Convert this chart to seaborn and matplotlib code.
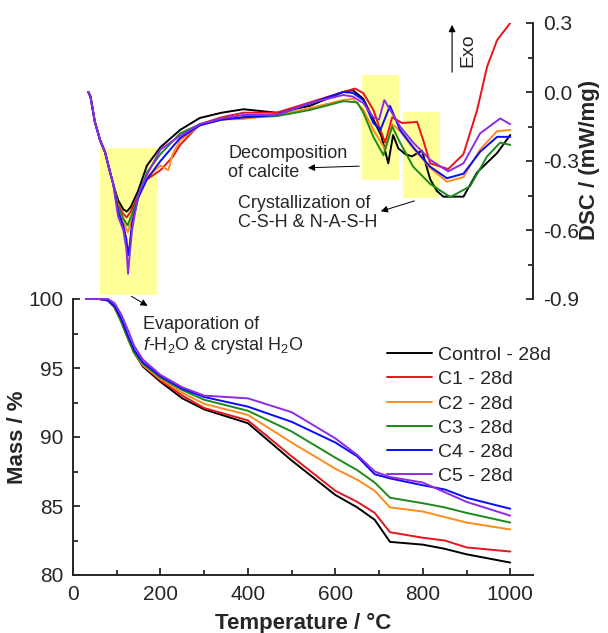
import numpy as np
import matplotlib.pyplot as plt
import matplotlib.ticker as ticker
from matplotlib.patches import Rectangle
import seaborn as sns

# Styling
sns.set_style('ticks')
plt.rcParams['font.family'] = ['Liberation Sans', 'DejaVu Sans']
plt.rcParams['mathtext.fontset'] = 'custom'
plt.rcParams['mathtext.rm'] = 'Liberation Sans'
plt.rcParams['mathtext.it'] = 'Liberation Sans:italic'

labels = ['Control - 28d', 'C1 - 28d', 'C2 - 28d', 'C3 - 28d', 'C4 - 28d', 'C5 - 28d']
colors = ['black', '#e8141b', '#ff8c1a', '#1b8a1b', '#0a0aff', '#8f2be8']

# TG data (mass %)
mass_temp = [30, 60, 80, 95, 110, 125, 140, 160, 200, 250, 300, 400, 500, 600, 650, 690, 725, 800, 850, 900, 1000]
mass_control = [100, 100, 99.9, 99.4, 98.4, 97.2, 96.1, 95.1, 94.0, 92.8, 92.0, 91.0, 88.3, 85.8, 84.9, 84.0, 82.4, 82.2, 81.9, 81.5, 80.9]
mass_c1      = [100, 100, 99.9, 99.4, 98.4, 97.2, 96.1, 95.2, 94.1, 93.0, 92.1, 91.2, 88.6, 86.1, 85.3, 84.5, 83.1, 82.7, 82.5, 82.0, 81.7]
mass_c2      = [100, 100, 99.9, 99.4, 98.4, 97.2, 96.1, 95.2, 94.2, 93.2, 92.4, 91.6, 89.6, 87.7, 86.9, 86.1, 84.9, 84.6, 84.2, 83.8, 83.3]
mass_c3      = [100, 100, 99.9, 99.4, 98.4, 97.2, 96.1, 95.3, 94.3, 93.4, 92.7, 91.9, 90.4, 88.5, 87.6, 86.7, 85.6, 85.2, 84.9, 84.5, 83.8]
mass_c4      = [100, 100, 99.9, 99.5, 98.6, 97.4, 96.3, 95.4, 94.4, 93.5, 92.9, 92.2, 91.1, 89.6, 88.6, 87.3, 87.0, 86.5, 86.2, 85.6, 84.8]
mass_c5      = [100, 100, 100, 99.7, 98.9, 97.8, 96.6, 95.6, 94.5, 93.6, 93.0, 92.8, 91.8, 89.9, 88.7, 87.5, 87.1, 86.7, 86.0, 85.3, 84.3]

# DSC data (mW/mg)
dsc_start_t = [35, 40, 50, 62, 73, 85, 92]
dsc_start = [0.0, -0.02, -0.13, -0.21, -0.26, -0.35, -0.40]

dsc_t_control = [103, 115, 123, 132, 149, 169, 200, 245, 290, 340, 390, 466, 542, 618, 640, 664, 687, 705, 721, 732, 744, 760, 775, 798, 817, 832, 847, 893, 924, 970, 1000]
dsc_control   = [-0.47, -0.51, -0.52, -0.50, -0.43, -0.32, -0.24, -0.165, -0.113, -0.09, -0.075, -0.09, -0.06, 0.0, 0.008, -0.03, -0.12, -0.19, -0.31, -0.187, -0.245, -0.27, -0.28, -0.255, -0.38, -0.43, -0.455, -0.455, -0.35, -0.265, -0.187]

dsc_t_c1 = [103, 115, 123, 132, 149, 169, 200, 229, 245, 290, 340, 390, 466, 542, 618, 645, 664, 687, 700, 714, 730, 753, 787, 801, 817, 858, 893, 924, 947, 970, 1000]
dsc_c1   = [-0.49, -0.53, -0.545, -0.52, -0.45, -0.38, -0.34, -0.28, -0.23, -0.14, -0.11, -0.09, -0.09, -0.045, 0.0, 0.015, -0.005, -0.078, -0.15, -0.22, -0.11, -0.135, -0.13, -0.21, -0.31, -0.335, -0.27, -0.08, 0.11, 0.226, 0.3]

dsc_t_c2 = [103, 115, 125, 135, 149, 169, 200, 218, 228, 245, 290, 340, 390, 466, 542, 618, 640, 664, 687, 714, 730, 748, 778, 817, 855, 893, 931, 970, 1000]
dsc_c2   = [-0.50, -0.56, -0.61, -0.55, -0.46, -0.37, -0.32, -0.34, -0.27, -0.21, -0.145, -0.12, -0.117, -0.10, -0.07, -0.035, -0.03, -0.078, -0.165, -0.25, -0.14, -0.17, -0.245, -0.33, -0.39, -0.37, -0.25, -0.17, -0.165]

dsc_t_c3 = [103, 115, 125, 135, 149, 169, 200, 245, 290, 340, 390, 466, 542, 618, 650, 664, 687, 710, 730, 748, 778, 817, 863, 908, 947, 977, 1000]
dsc_c3   = [-0.50, -0.55, -0.58, -0.53, -0.45, -0.35, -0.27, -0.18, -0.14, -0.12, -0.11, -0.105, -0.078, -0.04, -0.045, -0.09, -0.195, -0.275, -0.15, -0.22, -0.325, -0.40, -0.457, -0.41, -0.28, -0.22, -0.23]

dsc_t_c4 = [103, 115, 122, 126, 130, 135, 149, 169, 200, 245, 290, 340, 390, 466, 542, 618, 640, 664, 687, 703, 725, 748, 778, 817, 855, 893, 931, 970, 1000]
dsc_c4   = [-0.52, -0.58, -0.64, -0.71, -0.66, -0.57, -0.46, -0.38, -0.30, -0.20, -0.145, -0.12, -0.11, -0.10, -0.05, 0.0, -0.004, -0.035, -0.135, -0.165, -0.06, -0.165, -0.24, -0.325, -0.375, -0.355, -0.26, -0.195, -0.195]

dsc_t_c5 = [103, 115, 122, 126, 130, 135, 149, 169, 200, 245, 290, 340, 390, 466, 542, 618, 640, 664, 687, 700, 712, 748, 778, 817, 858, 893, 931, 977, 1000]
dsc_c5   = [-0.54, -0.60, -0.68, -0.79, -0.70, -0.60, -0.45, -0.36, -0.25, -0.19, -0.14, -0.115, -0.10, -0.10, -0.048, -0.013, -0.02, -0.048, -0.11, -0.12, -0.035, -0.15, -0.22, -0.295, -0.345, -0.31, -0.18, -0.115, -0.14]

mass_series = [mass_control, mass_c1, mass_c2, mass_c3, mass_c4, mass_c5]
dsc_temps = [dsc_t_control, dsc_t_c1, dsc_t_c2, dsc_t_c3, dsc_t_c4, dsc_t_c5]
dsc_series = [dsc_control, dsc_c1, dsc_c2, dsc_c3, dsc_c4, dsc_c5]

# highlighted regions: (T start, T end, DSC low, DSC high)
boxes = [(62, 192, -0.883, -0.243), (661, 746, -0.383, 0.074), (755, 840, -0.461, -0.087)]

# Figure
fig = plt.figure(figsize=(6.08, 6.33), dpi=100)
ax = fig.add_axes([73/608, 1 - 575/633, 460/608, 552/633])
ax2 = ax.twinx()

for m, c, lab in zip(mass_series, colors, labels):
    sns.lineplot(x=mass_temp, y=m, ax=ax, color=c, lw=1.4, label=lab, sort=False, estimator=None)

for (x0, x1, y0, y1) in boxes:
    ax2.add_patch(Rectangle((x0, y0), x1 - x0, y1 - y0, facecolor='#ffff99', edgecolor='none', zorder=0))

for t, d, c in zip(dsc_temps, dsc_series, colors):
    sns.lineplot(x=dsc_start_t + t, y=dsc_start + d, ax=ax2, color=c, lw=1.4, sort=False,
                 estimator=None, legend=False)

# axes limits / spines
ax.set_xlim(0, 1052)
ax.set_ylim(80, 120)
ax2.set_ylim(-2.1, 0.3)

for s in ['top', 'right']:
    ax.spines[s].set_visible(False)
for s in ['top', 'left', 'bottom']:
    ax2.spines[s].set_visible(False)
ax.spines['left'].set_bounds(80, 100)
ax2.spines['right'].set_bounds(-0.9, 0.3)
for a in [ax, ax2]:
    for s in a.spines.values():
        s.set_linewidth(1.4)

ax.set_xticks([0, 200, 400, 600, 800, 1000])
ax.xaxis.set_minor_locator(ticker.FixedLocator([100, 300, 500, 700, 900]))
ax.set_yticks([80, 85, 90, 95, 100])
ax.yaxis.set_minor_locator(ticker.FixedLocator([82.5, 87.5, 92.5, 97.5]))
ax2.set_yticks([-0.9, -0.6, -0.3, 0.0, 0.3])
ax2.yaxis.set_minor_locator(ticker.FixedLocator([-0.75, -0.45, -0.15, 0.15]))
ax2.yaxis.set_major_formatter(ticker.FormatStrFormatter('%.1f'))

for a in [ax, ax2]:
    a.tick_params(which='major', direction='in', length=5, width=1.3, labelsize=15, pad=7)
    a.tick_params(which='minor', direction='in', length=3.5, width=1.3)
ax.tick_params(axis='y', which='both', right=False)
ax.tick_params(axis='x', which='both', top=False)

ax.set_xlabel('Temperature / °C', fontsize=16, fontweight='bold')
ax.xaxis.set_label_coords(0.5, -0.068)
ax.set_ylabel('Mass / %', fontsize=16, fontweight='bold')
ax.yaxis.set_label_coords(-0.098, 0.25)
ax2.set_ylabel('DSC / (mW/mg)', fontsize=16, fontweight='bold')
ax2.yaxis.set_label_coords(1.10, 0.752)

ax.legend(loc='upper left', bbox_to_anchor=(0.683, 0.414), frameon=False, fontsize=14,
          handlelength=2.3, handletextpad=0.3, labelspacing=0.34, borderpad=0, borderaxespad=0)

# annotations
arrow = dict(arrowstyle='-|>', color='black', lw=0.7, mutation_scale=10)
ax.annotate('', xy=(176, 99.4), xytext=(128, 100.3), arrowprops=arrow, annotation_clip=False)
ax.text(160, 97.3, 'Evaporation of\n$f$-H$_2$O & crystal H$_2$O', fontsize=13, va='center', ha='left',
        linespacing=1.15)

ax2.annotate('', xy=(531, -0.330), xytext=(661, -0.322), arrowprops=arrow)
ax2.text(355, -0.31, 'Decomposition\nof calcite', fontsize=13, va='center', ha='left', linespacing=1.15)

ax2.annotate('', xy=(698, -0.522), xytext=(787, -0.47), arrowprops=arrow)
ax2.text(378, -0.526, 'Crystallization of\nC-S-H & N-A-S-H', fontsize=13, va='center', ha='left',
         linespacing=1.1)

ax2.annotate('', xy=(867, 0.304), xytext=(867, 0.074), arrowprops=dict(arrowstyle='-|>', color='black',
             lw=0.8, mutation_scale=10), annotation_clip=False)
ax2.text(903, 0.18, 'Exo', fontsize=14, rotation=90, va='center', ha='center')

fig.savefig('out.png', dpi=100)
